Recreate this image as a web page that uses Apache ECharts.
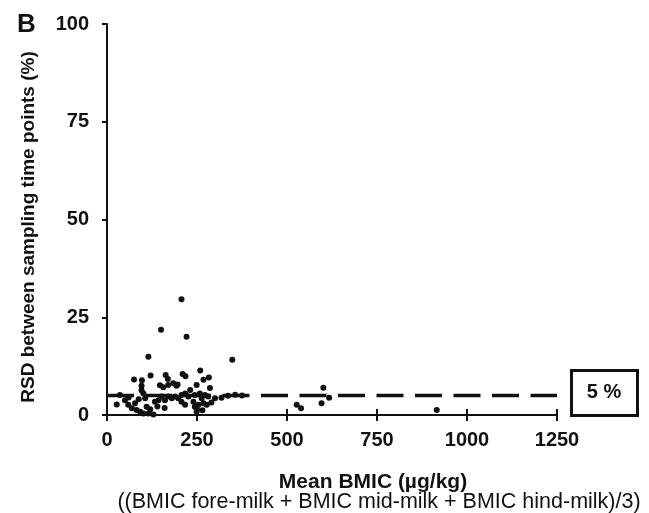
<!DOCTYPE html>
<html>
<head>
<meta charset="utf-8">
<script src="https://cdn.jsdelivr.net/npm/echarts@6/dist/echarts.min.js"></script>
<style>
  html, body { margin: 0; padding: 0; background: #fff; }
  #chart { width: 649px; height: 513px; }
</style>
</head>
<body>
<div id="chart"></div>
<script>
// mean BMIC (ug/kg) vs RSD (%) for each sample
const bmic = [
  207, 150, 221, 115, 348, 121, 75, 97, 163, 169, 210, 218, 259, 268, 283,
  96, 147, 156, 170, 184, 193, 196, 249, 286, 231, 96,
  36, 27, 50, 59, 69, 78, 82, 92, 101, 110, 115, 129, 106, 101, 133, 143,
  152, 161, 170, 180, 189, 198, 207, 217, 226, 244, 258, 272, 281, 207,
  217, 240, 244, 254, 268, 277, 263, 249, 60, 88, 120, 140, 160, 250, 265,
  290, 300, 318, 336, 356, 375,
  527, 539, 601, 617, 596, 916,
];
const rsd = [
  29.6, 21.8, 20.0, 14.9, 14.1, 10.1, 9.1, 8.9, 10.2, 9.2, 10.5, 9.9, 11.4, 9.0, 9.6,
  7.5, 7.6, 7.1, 7.7, 8.1, 7.5, 7.8, 7.7, 6.9, 6.4, 6.3,
  5.1, 2.7, 3.8, 2.6, 1.7, 3.0, 1.3, 0.8, 0.4, 2.1, 0.4, 0.1, 4.3, 5.5, 3.4, 3.8,
  4.7, 3.8, 4.7, 4.3, 4.7, 4.3, 5.1, 5.5, 4.7, 5.1, 5.5, 5.1, 4.7, 3.4,
  2.6, 3.4, 2.1, 2.6, 3.0, 2.6, 4.3, 0.8, 4.5, 4.0, 1.5, 2.2, 1.8, 1.5, 1.2,
  3.2, 4.3, 4.4, 4.9, 5.2, 5.0,
  2.6, 1.7, 7.0, 4.4, 3.0, 1.3,
];
const xTicks = [0, 250, 500, 750, 1000, 1250];
const yTicks = [0, 25, 50, 75, 100];
const refValue = 5;
const refLabel = '5 %';

const font = 'Liberation Sans, Arial, sans-serif';
const ink = '#111';

const chart = echarts.init(document.getElementById('chart'));

const baseX = {
  type: 'value',
  min: xTicks[0],
  max: xTicks[xTicks.length - 1],
  interval: xTicks[1] - xTicks[0],
  splitLine: { show: false },
};

chart.setOption({
  animation: false,
  grid: { left: 107, right: 92, top: 24, bottom: 98 },
  xAxis: [
    {
      ...baseX,
      axisLine: { lineStyle: { color: ink, width: 2 } },
      axisTick: { length: 6, lineStyle: { color: ink, width: 2 } },
      axisLabel: {
        color: ink,
        fontFamily: font,
        fontWeight: 'bold',
        fontSize: 20,
        margin: 15,
        formatter: (v) => String(v),
      },
    },
    {
      // inner half of the crossing ticks
      ...baseX,
      position: 'bottom',
      axisLine: { show: false },
      axisTick: { inside: true, length: 6, lineStyle: { color: ink, width: 2 } },
      axisLabel: { show: false },
    },
  ],
  yAxis: {
    type: 'value',
    min: yTicks[0],
    max: yTicks[yTicks.length - 1],
    interval: yTicks[1] - yTicks[0],
    splitLine: { show: false },
    axisLine: { show: true, lineStyle: { color: ink, width: 2 } },
    axisTick: { show: true, length: 5, lineStyle: { color: ink, width: 2 } },
    axisLabel: {
      color: ink,
      fontFamily: font,
      fontWeight: 'bold',
      fontSize: 20,
      margin: 18,
    },
  },
  series: [
    {
      type: 'line',
      data: [
        [xTicks[0], refValue],
        [xTicks[xTicks.length - 1], refValue],
      ],
      symbol: 'none',
      silent: true,
      lineStyle: { color: ink, width: 3.5, type: [27, 11.5] },
      z: 1,
    },
    {
      type: 'scatter',
      data: bmic.map((x, i) => [x, rsd[i]]),
      symbol: 'circle',
      symbolSize: 6,
      itemStyle: { color: ink, opacity: 1 },
      z: 2,
    },
  ],
  graphic: [
    {
      type: 'text',
      left: 17,
      top: 12,
      style: { text: 'B', font: 'bold 26px ' + font, fill: ink },
    },
    {
      type: 'text',
      x: 29,
      y: 227,
      rotation: Math.PI / 2,
      style: {
        text: 'RSD between sampling time points (%)',
        font: 'bold 19px ' + font,
        fill: ink,
        align: 'center',
        verticalAlign: 'middle',
      },
    },
    {
      type: 'rect',
      left: 570,
      top: 369,
      shape: { width: 66, height: 45 },
      style: { fill: '#fff', stroke: ink, lineWidth: 3 },
    },
    {
      type: 'text',
      x: 604,
      y: 392,
      style: {
        text: refLabel,
        font: 'bold 20px ' + font,
        fill: ink,
        align: 'center',
        verticalAlign: 'middle',
      },
    },
    {
      type: 'text',
      x: 373,
      y: 482,
      style: {
        text: 'Mean BMIC (µg/kg)',
        font: 'bold 21px ' + font,
        fill: ink,
        align: 'center',
        verticalAlign: 'middle',
      },
    },
    {
      type: 'text',
      x: 379,
      y: 502,
      style: {
        text: '((BMIC fore-milk + BMIC mid-milk + BMIC hind-milk)/3)',
        font: '21.5px ' + font,
        fill: ink,
        align: 'center',
        verticalAlign: 'middle',
      },
    },
  ],
});
</script>
</body>
</html>
